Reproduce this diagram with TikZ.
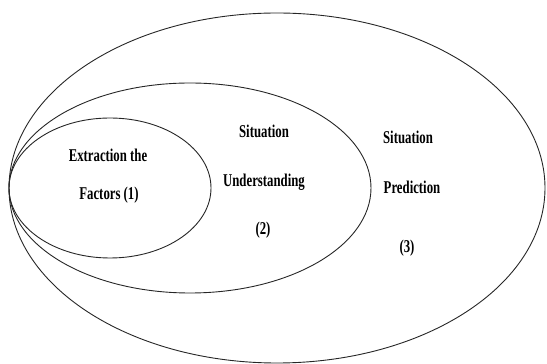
\documentclass[tikz,border=0pt]{standalone}
\usepackage{fontspec}
\setmainfont{Liberation Serif}
\usetikzlibrary{shapes.geometric}
\tikzset{
  ring/.style={draw=black!85, line width=0.9pt, ellipse, inner sep=0pt, fill=none},
  lbl/.style={font=\fontsize{18}{21}\selectfont\bfseries, xscale=0.71, inner sep=0pt, text=black}
}
\begin{document}
\begin{tikzpicture}[x=1pt,y=1pt]
  \useasboundingbox (0,0) rectangle (547,364);
  % nested stages, all sharing the left tangent point
  \node[ring, minimum width=536pt, minimum height=350pt] (outer) at (277,176) {};
  \node[ring, minimum width=362pt, minimum height=210pt] (middle) at (190,176) {};
  \node[ring, minimum width=202pt, minimum height=140pt] (inner) at (110,176) {};
  % stage 1
  \node[lbl] (ext) at (108,209) {Extraction the};
  \node[lbl] (fac) at (109,169) {Factors (1)};
  % stage 2
  \node[lbl] (sit2) at (264,233) {Situation};
  \node[lbl] (und) at (264,182) {Understanding};
  \node[lbl] (n2) at (263,134) {(2)};
  % stage 3
  \node[lbl] (sit3) at (408,227) {Situation};
  \node[lbl] (pre) at (412,177) {Prediction};
  \node[lbl] (n3) at (407,116) {(3)};
\end{tikzpicture}
\end{document}
